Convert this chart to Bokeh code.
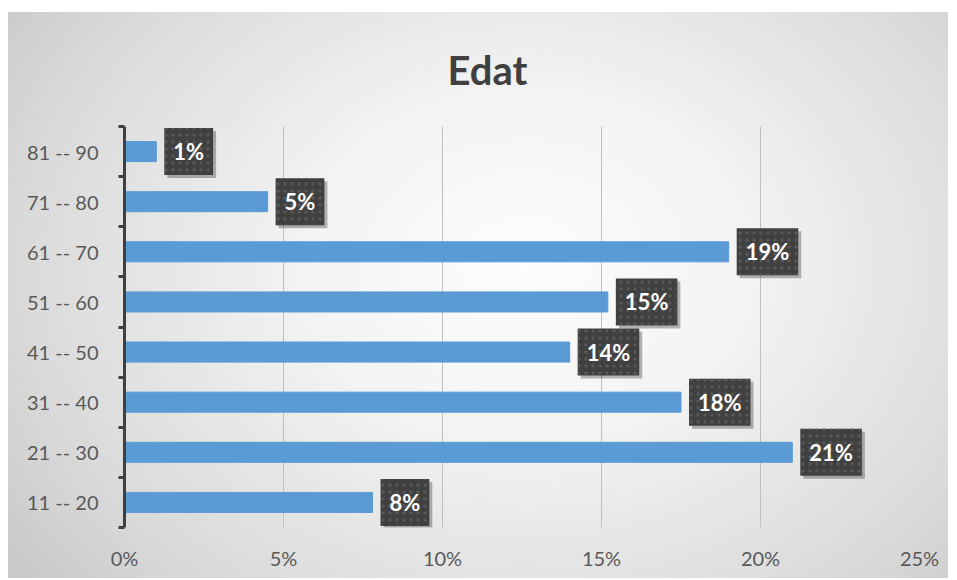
from bokeh.plotting import figure
from bokeh.models import ColumnDataSource, FixedTicker, NumeralTickFormatter, Range1d
from bokeh.core.properties import value
from bokeh.embed import file_html
from bokeh.resources import INLINE

# ---- data (bottom to top) ----
categories = ["11 -- 20", "21 -- 30", "31 -- 40", "41 -- 50",
              "51 -- 60", "61 -- 70", "71 -- 80", "81 -- 90"]
shares = [0.078, 0.21, 0.175, 0.14, 0.152, 0.19, 0.045, 0.01]
labels = ["8%", "21%", "18%", "14%", "15%", "19%", "5%", "1%"]
x_ticks = [0, 0.05, 0.10, 0.15, 0.20, 0.25]
title_text = "Edat"

pos = [i + 0.5 for i in range(len(categories))]
src = ColumnDataSource(dict(pos=pos, share=shares, label=labels, cat=categories))

FONT = "Lato"

p = figure(width=940, height=566, output_backend="svg", toolbar_location=None,
           x_range=Range1d(0, 0.25), y_range=Range1d(0, len(categories)),
           min_border_left=116, min_border_right=29, min_border_top=114,
           min_border_bottom=51, margin=(12, 9, 2, 8))

p.styles = {"background": "radial-gradient(ellipse 68% 88% at 55% 45%, #fdfdfd 0%, #f3f3f3 35%, #dadada 78%, #c9c9c9 100%)"}
p.background_fill_alpha = 0
p.border_fill_alpha = 0
p.outline_line_color = None

# title
p.title.text = title_text
p.title.align = "left"
p.title.vertical_align = "top"
p.title.text_font = FONT
p.title.text_font_size = "40px"
p.title.text_font_style = "bold"
p.title.text_color = "#404040"
p.title.offset = 323
p.title.standoff = 62

# bars
p.hbar(y="pos", left=0, right="share", height=0.4, source=src,
       fill_color="#5B9BD5", line_color="#5B9BD5")

# label shadows
p.text(x="share", y="pos", text="label", source=src,
       x_offset=11, y_offset=3, text_align="left", text_baseline="middle",
       text_font=value(FONT), text_font_style="bold", text_font_size="22px",
       text_alpha=0, padding=(9, 10),
       background_fill_color="#000000", background_fill_alpha=0.28)
# labels
p.text(x="share", y="pos", text="label", source=src,
       x_offset=8, text_align="left", text_baseline="middle",
       text_font=value(FONT), text_font_style="bold", text_font_size="22px",
       text_color="white", padding=(9, 10),
       background_fill_color="#404040",
       background_hatch_pattern="dot", background_hatch_color="#575757",
       background_hatch_scale=7)

# grid
p.xgrid.ticker = FixedTicker(ticks=x_ticks)
p.xgrid.grid_line_color = "#bfbfbf"
p.xgrid.grid_line_width = 1
p.ygrid.grid_line_color = None

# x axis
p.xaxis.ticker = FixedTicker(ticks=x_ticks)
p.xaxis.formatter = NumeralTickFormatter(format="0%")
p.xaxis.axis_line_color = None
p.xaxis.major_tick_line_color = None
p.xaxis.minor_tick_line_color = None
p.xaxis.major_label_text_font = FONT
p.xaxis.major_label_text_font_size = "20px"
p.xaxis.major_label_text_color = "#595959"
p.xaxis.major_label_standoff = 12

# y axis
p.yaxis.ticker = FixedTicker(ticks=pos, minor_ticks=list(range(len(categories) + 1)))
p.yaxis.major_label_overrides = {pp: c for pp, c in zip(pos, categories)}
p.yaxis.axis_line_color = "#404040"
p.yaxis.axis_line_width = 3
p.yaxis.major_tick_line_color = None
p.yaxis.major_tick_out = 0
p.yaxis.major_tick_in = 0
p.yaxis.minor_tick_in = 0
p.yaxis.minor_tick_out = 6
p.yaxis.minor_tick_line_color = "#404040"
p.yaxis.minor_tick_line_width = 3
p.yaxis.major_label_text_font = FONT
p.yaxis.major_label_text_font_size = "20px"
p.yaxis.major_label_text_color = "#595959"
p.yaxis.major_label_standoff = 20

open("out.html", "w").write(file_html(p, INLINE))
